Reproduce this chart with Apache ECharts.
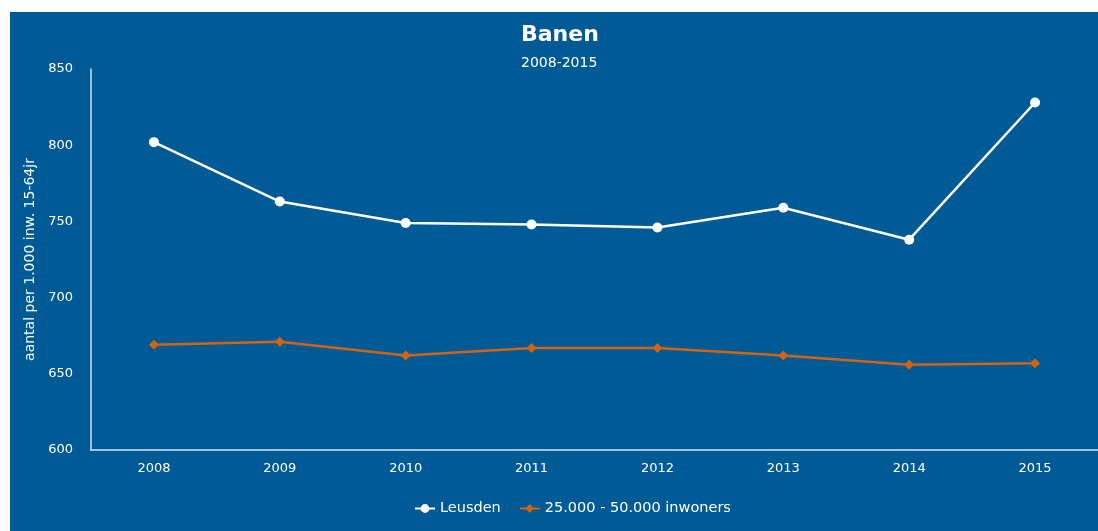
<!DOCTYPE html>
<html>
<head>
<meta charset="utf-8">
<script src="https://cdn.jsdelivr.net/npm/echarts@6/dist/echarts.min.js"></script>
<style>
  html, body { margin: 0; padding: 0; background: #fff; }
  #chart { position: absolute; left: 10px; top: 12px; width: 1088px; height: 519px; }
</style>
</head>
<body>
<div id="chart"></div>
<script>
// jaren en waarden (aantal banen per 1.000 inw. 15-64jr)
const years = ['2008', '2009', '2010', '2011', '2012', '2013', '2014', '2015']
const leusden = [802, 763, 749, 748, 746, 759, 738, 828]
const gemeenten = [669, 671, 662, 667, 667, 662, 656, 657]

const blue = '#005a96'
const orange = '#d2640f'
const font = 'DejaVu Sans'

let chart = echarts.init(document.getElementById('chart'))
chart.setOption({
  backgroundColor: blue,
  textStyle: { fontFamily: font },
  graphic: [
    { type: 'text', left: 511, top: 12, style: { text: 'Banen', fill: '#fff', fontFamily: font, fontSize: 22, fontWeight: 'bold' } },
    { type: 'text', left: 511, top: 44, style: { text: '2008-2015', fill: '#fff', fontFamily: font, fontSize: 14 } }
  ],
  legend: {
    left: 399,
    top: 484,
    itemWidth: 20,
    itemHeight: 11,
    itemGap: 18,
    textStyle: { color: '#fff', fontSize: 14.5, fontFamily: font },
    data: ['Leusden', '25.000 - 50.000 inwoners']
  },
  grid: { left: 81, top: 57, right: 0, bottom: 81 },
  xAxis: {
    type: 'category',
    data: years,
    boundaryGap: true,
    axisLine: { lineStyle: { color: '#d6e2ee', width: 1.5 } },
    axisTick: { show: false },
    axisLabel: { color: '#fff', fontSize: 13, margin: 12 }
  },
  yAxis: {
    type: 'value',
    min: 600,
    max: 850,
    interval: 50,
    name: 'aantal per 1.000 inw. 15-64jr',
    nameLocation: 'middle',
    nameGap: 45,
    nameTextStyle: { color: '#fff', fontSize: 14 },
    axisLine: { show: true, lineStyle: { color: '#d6e2ee', width: 1.5 } },
    axisTick: { show: false },
    splitLine: { show: false },
    axisLabel: { color: '#fff', fontSize: 13, margin: 18 }
  },
  series: [
    {
      name: 'Leusden',
      type: 'line',
      data: leusden,
      symbol: 'circle',
      symbolSize: 10,
      color: '#fff',
      lineStyle: { width: 2.5 }
    },
    {
      name: '25.000 - 50.000 inwoners',
      type: 'line',
      data: gemeenten,
      symbol: 'diamond',
      symbolSize: 10,
      color: orange,
      lineStyle: { width: 2.5 }
    }
  ]
})
</script>
</body>
</html>
